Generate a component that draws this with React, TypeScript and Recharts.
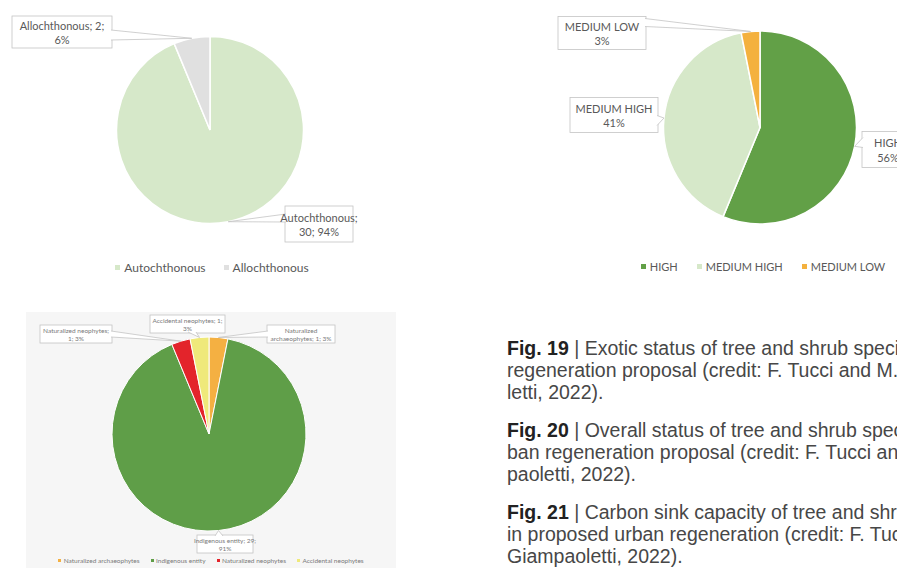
import { Cell, Legend, Pie, PieChart } from "recharts";

// Fig. 19 – exotic status (species count)
const statusNames = ["Autochthonous", "Allochthonous"];
const statusCounts = [30, 2];
const statusColors = ["#d6e8c9", "#e0e0e0"];

// Fig. 21 – carbon sink capacity (species count)
const sinkNames = ["HIGH", "MEDIUM HIGH", "MEDIUM LOW"];
const sinkCounts = [18, 13, 1];
const sinkColors = ["#62a047", "#d6e8c9", "#f4b13e"];

// Fig. 20 – overall status (species count)
const originNames = [
  "Naturalized archaeophytes",
  "Indigenous entity",
  "Naturalized neophytes",
  "Accidental neophytes",
];
const originCounts = [1, 29, 1, 1];
const originColors = ["#f4b042", "#5f9e48", "#e3242b", "#efe97a"];

const captions = [
  { fig: "Fig. 19", lines: ["Exotic status of tree and shrub species in proposed urban", "regeneration proposal (credit: F. Tucci and M. Giampao-", "letti, 2022)."] },
  { fig: "Fig. 20", lines: ["Overall status of tree and shrub species in proposed ur-", "ban regeneration proposal (credit: F. Tucci and M. Giam-", "paoletti, 2022)."] },
  { fig: "Fig. 21", lines: ["Carbon sink capacity of tree and shrub species", "in proposed urban regeneration (credit: F. Tucci and M.", "Giampaoletti, 2022)."] },
];

const toRows = (names: string[], counts: number[]) =>
  names.map((name, i) => ({ name, value: counts[i] }));

const RAD = Math.PI / 180;
const FONT = "Lato, 'Open Sans', sans-serif";
const NO_MARGIN = { top: 0, right: 0, bottom: 0, left: 0 };

type Side = "left" | "right" | "top" | "bottom";
interface Box {
  dx: number;
  dy: number;
  w: number;
  h: number;
  side: Side;
  p1: number;
  p2: number;
  split: number;
}

function Callout(props: any) {
  const { cx, cy, midAngle, outerRadius, index, name, value, percent, boxes, fontSize, color, withValue } = props;
  const box: Box = boxes[index];
  const ax = cx + outerRadius * Math.cos(-midAngle * RAD);
  const ay = cy + outerRadius * Math.sin(-midAngle * RAD);
  const x = cx + box.dx;
  const y = cy + box.dy;
  const pct = `${Math.round(percent * 100)}%`;
  const words = withValue ? `${name}; ${value}; ${pct}`.split(" ") : `${name} ${pct}`.split(" ");
  const lines = [words.slice(0, box.split).join(" "), words.slice(box.split).join(" ")];

  let b1: number[];
  let b2: number[];
  if (box.side === "left") {
    b1 = [x + 1, y + box.p1];
    b2 = [x + 1, y + box.p2];
  } else if (box.side === "right") {
    b1 = [x + box.w - 1, y + box.p1];
    b2 = [x + box.w - 1, y + box.p2];
  } else if (box.side === "top") {
    b1 = [x + box.p1, y + 1];
    b2 = [x + box.p2, y + 1];
  } else {
    b1 = [x + box.p1, y + box.h - 1];
    b2 = [x + box.p2, y + box.h - 1];
  }
  const lh = fontSize * 1.3;
  const ty = y + box.h / 2 - lh / 2;

  return (
    <g>
      <rect x={x} y={y} width={box.w} height={box.h} fill="#fff" stroke="#c4c4c4" strokeWidth={0.8} />
      <polygon points={`${b1[0]},${b1[1]} ${ax},${ay} ${b2[0]},${b2[1]}`} fill="#fff" stroke="none" />
      <polyline
        points={`${b1[0]},${b1[1]} ${ax},${ay} ${b2[0]},${b2[1]}`}
        fill="none"
        stroke="#c4c4c4"
        strokeWidth={0.8}
      />
      <text
        x={x + box.w / 2}
        y={ty}
        textAnchor="middle"
        dominantBaseline="central"
        fontFamily={FONT}
        fontSize={fontSize}
        fill={color}
      >
        <tspan x={x + box.w / 2} dy={0}>
          {lines[0]}
        </tspan>
        <tspan x={x + box.w / 2} dy={lh}>
          {lines[1]}
        </tspan>
      </text>
    </g>
  );
}

// legend keeps the slice order of the data, not Recharts' sorted order
function legendContent(order: string[], fontSize: number, gap: number, mark: number, color: string) {
  return ({ payload }: any) => {
    const items = [...(payload || [])].sort(
      (a: any, b: any) => order.indexOf(a.value) - order.indexOf(b.value)
    );
    return (
      <div
        style={{
          display: "flex",
          justifyContent: "center",
          alignItems: "center",
          gap,
          fontFamily: FONT,
          fontSize,
          color,
          whiteSpace: "nowrap",
        }}
      >
        {items.map((entry: any) => (
          <span key={entry.value} style={{ display: "inline-flex", alignItems: "center", gap: mark * 0.8 }}>
            <span style={{ width: mark, height: mark, background: entry.color, display: "inline-block" }} />
            {entry.value}
          </span>
        ))}
      </div>
    );
  };
}

const statusBoxes: Box[] = [
  { dx: 75, dy: 76, w: 68, h: 36, side: "left", p1: 8, p2: 16, split: 1 },
  { dx: -198, dy: -114, w: 100, h: 32, side: "right", p1: 14, p2: 24, split: 2 },
];
const sinkBoxes: Box[] = [
  { dx: 102, dy: 4, w: 52, h: 36, side: "left", p1: 6, p2: 16, split: 1 },
  { dx: -190, dy: -30, w: 88, h: 35, side: "right", p1: 18, p2: 28, split: 2 },
  { dx: -202, dy: -111, w: 88, h: 33, side: "right", p1: 2, p2: 10, split: 2 },
];
const originBoxes: Box[] = [
  { dx: 58, dy: -109, w: 68, h: 18, side: "left", p1: 6, p2: 12, split: 1 },
  { dx: -12, dy: 101, w: 56, h: 18, side: "top", p1: 18, p2: 26, split: 3 },
  { dx: -169, dy: -109, w: 72, h: 18, side: "right", p1: 6, p2: 12, split: 2 },
  { dx: -59, dy: -119, w: 75, h: 18, side: "bottom", p1: 38, p2: 46, split: 3 },
];

export default function App() {
  const statusData = toRows(statusNames, statusCounts);
  const sinkData = toRows(sinkNames, sinkCounts);
  const originData = toRows(originNames, originCounts);

  return (
    <div
      style={{
        position: "absolute",
        left: 0,
        top: 0,
        width: 897,
        height: 568,
        overflow: "hidden",
        background: "#fff",
      }}
    >
      <div style={{ position: "absolute", left: 0, top: 0 }}>
        <PieChart width={420} height={290} margin={NO_MARGIN}>
          <Pie
            data={statusData}
            dataKey="value"
            nameKey="name"
            cx={210}
            cy={130}
            outerRadius={93.5}
            startAngle={90}
            endAngle={-270}
            stroke="#fff"
            strokeWidth={1.5}
            labelLine={false}
            label={(p: any) => (
              <Callout {...p} boxes={statusBoxes} fontSize={11} color="#595959" withValue />
            )}
            isAnimationActive={false}
          >
            {statusData.map((d, i) => (
              <Cell key={d.name} fill={statusColors[i]} />
            ))}
          </Pie>
          <Legend
            verticalAlign="bottom"
            wrapperStyle={{ top: 260, bottom: "auto", left: 0, width: 424 }}
            content={legendContent(statusNames, 12, 18, 5, "#595959")}
          />
        </PieChart>
      </div>

      <div style={{ position: "absolute", left: 540, top: 0 }}>
        <PieChart width={440} height={290} margin={NO_MARGIN}>
          <Pie
            data={sinkData}
            dataKey="value"
            nameKey="name"
            cx={220}
            cy={127.5}
            outerRadius={96.5}
            startAngle={90}
            endAngle={-270}
            stroke="#fff"
            strokeWidth={1.5}
            labelLine={false}
            label={(p: any) => <Callout {...p} boxes={sinkBoxes} fontSize={11} color="#595959" />}
            isAnimationActive={false}
          >
            {sinkData.map((d, i) => (
              <Cell key={d.name} fill={sinkColors[i]} />
            ))}
          </Pie>
          <Legend
            verticalAlign="bottom"
            wrapperStyle={{ top: 260, bottom: "auto", left: 0, width: 446 }}
            content={legendContent(sinkNames, 11, 19, 5, "#595959")}
          />
        </PieChart>
      </div>

      <div
        style={{
          position: "absolute",
          left: 26,
          top: 312,
          width: 370,
          height: 256,
          background: "#f6f6f6",
        }}
      />
      <div style={{ position: "absolute", left: 0, top: 300 }}>
        <PieChart width={418} height={268} margin={NO_MARGIN}>
          <Pie
            data={originData}
            dataKey="value"
            nameKey="name"
            cx={209}
            cy={134}
            outerRadius={97}
            startAngle={90}
            endAngle={-270}
            stroke="#fff"
            strokeWidth={1}
            labelLine={false}
            label={(p: any) => (
              <Callout {...p} boxes={originBoxes} fontSize={6.5} color="#7a7a7a" withValue />
            )}
            isAnimationActive={false}
          >
            {originData.map((d, i) => (
              <Cell key={d.name} fill={originColors[i]} />
            ))}
          </Pie>
          <Legend
            verticalAlign="bottom"
            wrapperStyle={{ top: 257, bottom: "auto", left: 0, width: 422 }}
            content={legendContent(originNames, 6.5, 11, 3, "#7a7a7a")}
          />
        </PieChart>
      </div>

      <div
        style={{
          position: "absolute",
          left: 507,
          top: 337,
          fontFamily: "'Liberation Sans', Arial, sans-serif",
          fontSize: 19.5,
          lineHeight: "22px",
          color: "#474747",
          whiteSpace: "nowrap",
        }}
      >
        {captions.map((c) => (
          <div key={c.fig} style={{ marginBottom: 16 }}>
            <div>
              <b style={{ color: "#222" }}>{c.fig}</b> | {c.lines[0]}
            </div>
            <div>{c.lines[1]}</div>
            <div>{c.lines[2]}</div>
          </div>
        ))}
      </div>
    </div>
  );
}
